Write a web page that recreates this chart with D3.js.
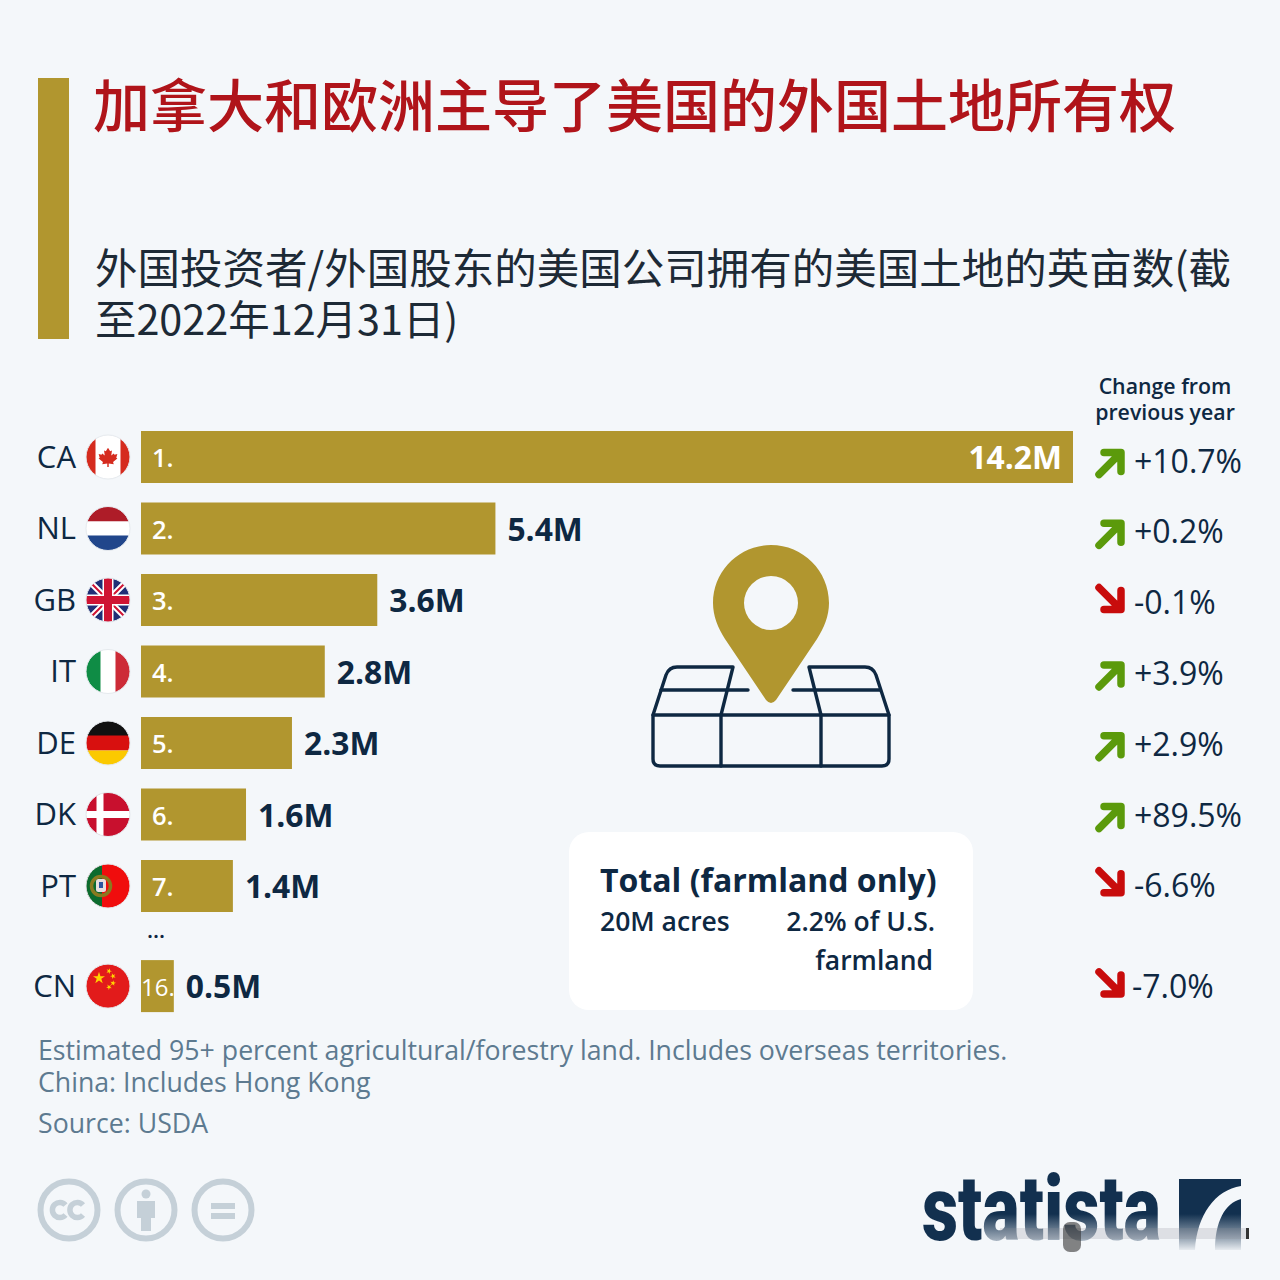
<!DOCTYPE html>
<html>
<head>
<meta charset="utf-8">
<script src="https://cdn.jsdelivr.net/npm/d3@7"></script>
<style>
html, body { margin: 0; padding: 0; background: #f4f7fa; }
svg { display: block; }
text { font-family: "Open Sans", sans-serif; }
</style>
</head>
<body>
<svg id="chart" width="1280" height="1280"></svg>
<script>
// data
var codes = ["CA", "NL", "GB", "IT", "DE", "DK", "PT", "CN"];
var ranks = ["1.", "2.", "3.", "4.", "5.", "6.", "7.", "16."];
var acres = [14.2, 5.4, 3.6, 2.8, 2.3, 1.6, 1.4, 0.5];
var changes = [10.7, 0.2, -0.1, 3.9, 2.9, 89.5, -6.6, -7.0];
var slots = [0, 1, 2, 3, 4, 5, 6, 7.4]; // CN sits lower, after the "..."

var titleText = "加拿大和欧洲主导了美国的外国土地所有权";
var subtitleLines = ["外国投资者/外国股东的美国公司拥有的美国土地的英亩数(截", "至2022年12月31日)"];
var changeHeader = ["Change from", "previous year"];
var noteLines = ["Estimated 95+ percent agricultural/forestry land. Includes overseas territories.", "China: Includes Hong Kong"];
var sourceText = "Source: USDA";

var gold = "#b1962f", navy = "#0e2842", green = "#5b9a0b", red = "#c80c0c", grey = "#c5d0d8";

var svg = d3.select("#chart");
var defs = svg.append("defs");

var x = d3.scaleLinear().domain([0, 14.2]).range([141, 1073]);
var y = d3.scaleLinear().domain([0, 1]).range([457, 528.5]);
// the change column runs on a slightly tighter step than the bars
var yChange = d3.scaleLinear().domain([0, 1]).range([461, 531.8]);
var barH = 52;

svg.append("rect").attr("width", 1280).attr("height", 1280).attr("fill", "#f4f7fa");

// header
svg.append("rect").attr("x", 38).attr("y", 78).attr("width", 31).attr("height", 261).attr("fill", gold);
svg.append("text").attr("x", 93).attr("y", 127)
  .style("font-family", "'Noto Sans CJK SC'").style("font-size", "57px").style("font-weight", 500).attr("fill", "#b0141a")
  .text(titleText);
svg.selectAll(".sub").data(subtitleLines).enter().append("text")
  .attr("class", "sub")
  .attr("x", 95)
  .attr("y", function(d, i) { return 284 + i * 51; })
  .style("font-family", "'Noto Sans CJK SC'")
  .style("font-size", function(d, i) { return i == 0 ? "42.5px" : "41.4px"; })
  .attr("fill", "#1d2a36")
  .text(function(d) { return d; });

// column header
svg.selectAll(".chg").data(changeHeader).enter().append("text")
  .attr("class", "chg")
  .attr("x", 1165)
  .attr("y", function(d, i) { return 394 + i * 26; })
  .attr("text-anchor", "middle")
  .style("font-size", "21.3px").style("font-weight", 600).attr("fill", navy)
  .text(function(d) { return d; });

// rows
var row = svg.selectAll(".row")
  .data(codes.map(function(c, i) { return i; }))
  .enter().append("g").attr("class", "row");

row.append("rect")
  .attr("x", x(0))
  .attr("y", function(i) { return y(slots[i]) - barH / 2; })
  .attr("width", function(i) { return x(acres[i]) - x(0); })
  .attr("height", barH)
  .attr("fill", gold);

row.append("text")
  .attr("x", 76)
  .attr("y", function(i) { return y(slots[i]) + 10.5; })
  .attr("text-anchor", "end")
  .style("font-size", "31px").attr("fill", navy)
  .text(function(i) { return codes[i]; });

row.append("text")
  .attr("x", function(i) { return i == 7 ? 141 : 152; })
  .attr("y", function(i) { return y(slots[i]) + 10; })
  .style("font-size", function(i) { return i == 7 ? "24px" : "25.5px"; })
  .style("font-weight", function(i) { return i == 7 ? 400 : 600; })
  .attr("fill", "#fff")
  .text(function(i) { return ranks[i]; });

row.append("text")
  .attr("x", function(i) { return i == 0 ? x(acres[i]) - 11 : x(acres[i]) + 12; })
  .attr("y", function(i) { return y(slots[i]) + 12; })
  .attr("text-anchor", function(i) { return i == 0 ? "end" : "start"; })
  .style("font-size", "31.8px").style("font-weight", 700)
  .attr("fill", function(i) { return i == 0 ? "#fff" : navy; })
  .text(function(i) { return acres[i].toFixed(1) + "M"; });

row.append("text")
  .attr("x", function(i) { return i == 7 ? 1132 : 1134; })
  .attr("y", function(i) { return yChange(slots[i]) + (i == 7 ? 13 : 11.5); })
  .style("font-size", "32px").attr("fill", navy)
  .text(function(i) { return (changes[i] > 0 ? "+" : "") + changes[i].toFixed(1) + "%"; });

// trend arrows
row.append("path")
  .attr("d", "M-12,12 L8,-8 M-7,-10 L10,-10 L10,9")
  .attr("transform", function(i) {
    var up = changes[i] > 0;
    var cy = yChange(slots[i]) + (up ? 1.5 : (i == 7 ? -1 : -3));
    return "translate(1111," + cy + ") scale(1," + (up ? 1 : -1) + ")";
  })
  .attr("fill", "none")
  .attr("stroke", function(i) { return changes[i] > 0 ? green : red; })
  .attr("stroke-width", 7.5)
  .attr("stroke-linecap", "round")
  .attr("stroke-linejoin", "round");

svg.append("text").attr("x", 156).attr("y", 938).attr("text-anchor", "middle")
  .style("font-size", "22px").style("font-weight", 600).attr("fill", navy).text("...");

// flags
defs.append("clipPath").attr("id", "flagClip").append("circle").attr("r", 22);
var flagDraw = {
  CA: function(g) {
    g.append("rect").attr("x", -22).attr("y", -22).attr("width", 44).attr("height", 44).attr("fill", "#fff");
    g.append("rect").attr("x", -22).attr("y", -22).attr("width", 9.5).attr("height", 44).attr("fill", "#d52b1e");
    g.append("rect").attr("x", 12.5).attr("y", -22).attr("width", 9.5).attr("height", 44).attr("fill", "#d52b1e");
    g.append("path").attr("fill", "#d52b1e").attr("transform", "scale(0.72)")
      .attr("d", "M0,-13 L3,-8 L5.5,-9 L4.5,-2 L8,-5 L9,-3 L13,-4 L11.5,1 L13,2 L7,7 L8,10 L1,9 L1,14 L-1,14 L-1,9 L-8,10 L-7,7 L-13,2 L-11.5,1 L-13,-4 L-9,-3 L-8,-5 L-4.5,-2 L-5.5,-9 L-3,-8 Z");
  },
  NL: function(g) {
    [["#ae1c28", -22], ["#fff", -7], ["#21468b", 7]].forEach(function(b) {
      g.append("rect").attr("x", -22).attr("y", b[1]).attr("width", 44).attr("height", b[1] == -7 ? 14 : 15).attr("fill", b[0]);
    });
  },
  GB: function(g) {
    g.append("rect").attr("x", -22).attr("y", -22).attr("width", 44).attr("height", 44).attr("fill", "#1f2f76");
    g.append("path").attr("d", "M-22,-22L22,22M22,-22L-22,22").attr("stroke", "#fff").attr("stroke-width", 6);
    g.append("path").attr("d", "M-22,-22L22,22M22,-22L-22,22").attr("stroke", "#cf1433").attr("stroke-width", 2);
    g.append("path").attr("d", "M0,-22V22M-22,0H22").attr("stroke", "#fff").attr("stroke-width", 11);
    g.append("path").attr("d", "M0,-22V22M-22,0H22").attr("stroke", "#cf1433").attr("stroke-width", 8);
  },
  IT: function(g) {
    [["#0f8c45", -22], ["#fff", -7.5], ["#cd2b37", 7.5]].forEach(function(b) {
      g.append("rect").attr("x", b[1]).attr("y", -22).attr("width", 15).attr("height", 44).attr("fill", b[0]);
    });
  },
  DE: function(g) {
    [["#111", -22], ["#d8100f", -7.5], ["#fbc900", 7.5]].forEach(function(b) {
      g.append("rect").attr("x", -22).attr("y", b[1]).attr("width", 44).attr("height", 15).attr("fill", b[0]);
    });
  },
  DK: function(g) {
    g.append("rect").attr("x", -22).attr("y", -22).attr("width", 44).attr("height", 44).attr("fill", "#c8102e");
    g.append("path").attr("d", "M-8,-22V22M-22,0H22").attr("stroke", "#fff").attr("stroke-width", 7);
  },
  PT: function(g) {
    g.append("rect").attr("x", -22).attr("y", -22).attr("width", 44).attr("height", 44).attr("fill", "#f00d0d");
    g.append("rect").attr("x", -22).attr("y", -22).attr("width", 16).attr("height", 44).attr("fill", "#0c6b2e");
    g.append("circle").attr("cx", -7).attr("r", 9.5).attr("fill", "none").attr("stroke", "#8a7a20").attr("stroke-width", 3.5);
    g.append("rect").attr("x", -12).attr("y", -7).attr("width", 10).attr("height", 13).attr("rx", 2.5).attr("fill", "#e8dede");
    g.append("rect").attr("x", -9).attr("y", -4).attr("width", 4).attr("height", 6).attr("fill", "#2b55a0");
  },
  CN: function(g) {
    g.append("rect").attr("x", -22).attr("y", -22).attr("width", 44).attr("height", 44).attr("fill", "#e21b1b");
    var star = d3.symbol().type(d3.symbolStar);
    g.append("path").attr("d", star.size(45)()).attr("transform", "translate(-9,-8)").attr("fill", "#ffd400");
    [[1, -15, 20], [5, -10, 50], [5, -3, 10], [1, 1, 40]].forEach(function(s) {
      g.append("path").attr("d", star.size(10)()).attr("transform", "translate(" + s[0] + "," + s[1] + ") rotate(" + s[2] + ")").attr("fill", "#ffd400");
    });
  }
};
codes.forEach(function(c, i) {
  var g = svg.append("g").attr("transform", "translate(108," + y(slots[i]) + ")");
  var inner = g.append("g").attr("clip-path", "url(#flagClip)");
  flagDraw[c](inner);
  g.append("circle").attr("r", 22).attr("fill", "none").attr("stroke", "#e6eaee").attr("stroke-width", 1);
});

// land icon
var land = svg.append("g").attr("fill", "none").attr("stroke", navy).attr("stroke-width", 3.4)
  .attr("stroke-linecap", "round").attr("stroke-linejoin", "round");
land.append("path").attr("d", "M653,715 H889 V759 Q889,766 882,766 H660 Q653,766 653,759 Z");
land.append("path").attr("d", "M721,715 V766 M821,715 V766");
land.append("path").attr("d", "M653,715 L666,675 Q669,667 677,667 H733 L721,715");
land.append("path").attr("d", "M889,715 L876,675 Q873,667 865,667 H809 L821,715");
land.append("path").attr("d", "M661,690 H748 M793,690 H880");

// pin
svg.append("path").attr("fill", gold).attr("fill-rule", "evenodd")
  .attr("d", "M771,545 C803,545 829,571 829,603 C829,616 824,628 817,639 L776,700 Q771,706 766,700 L725,639 C718,628 713,616 713,603 C713,571 739,545 771,545 Z M771,576 A27,27 0 1 0 771,630 A27,27 0 1 0 771,576 Z");

// total card
svg.append("rect").attr("x", 569).attr("y", 832).attr("width", 404).attr("height", 178).attr("rx", 20).attr("fill", "#fff");
svg.append("text").attr("x", 600).attr("y", 892).style("font-size", "32px").style("font-weight", 700).attr("fill", navy).text("Total (farmland only)");
svg.append("text").attr("x", 600).attr("y", 931).style("font-size", "26.5px").style("font-weight", 600).attr("fill", navy).text("20M acres");
svg.append("text").attr("x", 935).attr("y", 931).attr("text-anchor", "end").style("font-size", "26.5px").style("font-weight", 600).attr("fill", navy).text("2.2% of U.S.");
svg.append("text").attr("x", 933).attr("y", 970).attr("text-anchor", "end").style("font-size", "26.5px").style("font-weight", 600).attr("fill", navy).text("farmland");

// notes
svg.selectAll(".note").data(noteLines).enter().append("text")
  .attr("class", "note")
  .attr("x", 38)
  .attr("y", function(d, i) { return 1060 + i * 32; })
  .style("font-size", "26.7px").attr("fill", "#5d7a90")
  .text(function(d) { return d; });
svg.append("text").attr("x", 38).attr("y", 1133).style("font-size", "26.7px").attr("fill", "#5d7a90").text(sourceText);

// cc icons
var cc = svg.selectAll(".cc").data([69, 146, 223]).enter().append("g")
  .attr("class", "cc")
  .attr("transform", function(d) { return "translate(" + d + ",1210)"; });
cc.append("circle").attr("r", 28.5).attr("fill", "none").attr("stroke", grey).attr("stroke-width", 6);
d3.select(cc.nodes()[0]).append("path").attr("fill", "none").attr("stroke", grey).attr("stroke-width", 5.5)
  .attr("d", "M-3.5,-5 A7.5,7.5 0 1 0 -3.5,5 M14,-5 A7.5,7.5 0 1 0 14,5");
d3.select(cc.nodes()[1]).append("circle").attr("cy", -16).attr("r", 4.5).attr("fill", grey);
d3.select(cc.nodes()[1]).append("path").attr("fill", grey).attr("d", "M-9,-9 H9 V8 H5 V21 H-5 V8 H-9 Z");
d3.select(cc.nodes()[2]).append("path").attr("fill", grey).attr("d", "M-12,-7 H12 V-1 H-12 Z M-12,3 H12 V9 H-12 Z");

// statista logo, the lower part fades out in the picture
var fade = defs.append("linearGradient").attr("id", "logoFade")
  .attr("gradientUnits", "userSpaceOnUse").attr("x1", 0).attr("x2", 0).attr("y1", 1214).attr("y2", 1252);
fade.append("stop").attr("offset", 0).attr("stop-color", "#12304f").attr("stop-opacity", 1);
fade.append("stop").attr("offset", 0.65).attr("stop-color", "#12304f").attr("stop-opacity", 0.4);
fade.append("stop").attr("offset", 1).attr("stop-color", "#12304f").attr("stop-opacity", 0);

var logo = svg.append("text").attr("x", 922).attr("y", 1240)
  .attr("textLength", 239).attr("lengthAdjust", "spacingAndGlyphs")
  .style("font-family", "Roboto").style("font-size", "90px").style("font-weight", 900);
logo.append("tspan").attr("fill", "#12304f").text("st");
logo.append("tspan").attr("fill", "url(#logoFade)").text("atista");
svg.append("path").attr("fill", "url(#logoFade)")
  .attr("d", "M1179,1179 H1241 V1186 C1215,1190 1197,1215 1195,1250 H1179 Z M1241,1199 V1250 H1215 C1215,1222 1225,1203 1241,1199 Z");
svg.append("rect").attr("x", 1000).attr("y", 1228).attr("width", 248).attr("height", 11).attr("fill", "#8b8f94").attr("opacity", 0.22);
svg.append("rect").attr("x", 1063).attr("y", 1222).attr("width", 18).attr("height", 30).attr("rx", 7).attr("fill", "#333").attr("opacity", 0.6);
svg.append("rect").attr("x", 1246).attr("y", 1228).attr("width", 3).attr("height", 11).attr("fill", "#333");
</script>
</body>
</html>
